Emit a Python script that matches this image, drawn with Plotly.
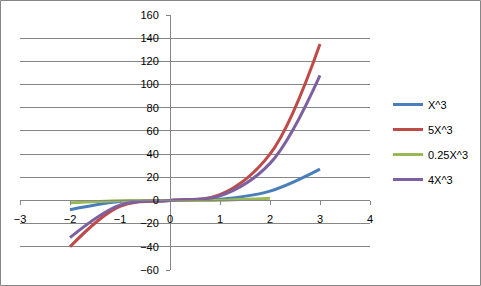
import plotly.graph_objects as go

x_full = [-2, -1, 0, 1, 2, 3]
x_green = [-2, -1, 0, 1, 2]
y_x3 = [-8, -1, 0, 1, 8, 27]
y_5x3 = [-40, -5, 0, 5, 40, 135]
y_025x3 = [-2, -0.25, 0, 0.25, 2]
y_4x3 = [-32, -4, 0, 4, 32, 108]

names = ["X^3", "5X^3", "0.25X^3", "4X^3"]
colors = ["#4A7EBB", "#BE4B48", "#98B954", "#7D60A0"]
xs = [x_full, x_full, x_green, x_full]
ys = [y_x3, y_5x3, y_025x3, y_4x3]

fig = go.Figure()
for n, c, xx, yy in zip(names, colors, xs, ys):
    fig.add_trace(go.Scatter(x=xx, y=yy, name=n, mode="lines",
                             line=dict(color=c, width=3, shape="spline", smoothing=1.0),
                             legendgroup=n))

L, R, T, B = 20, 111, 15, 16
W, H = 481, 286
pw, ph = W - L - R, H - T - B

fig.update_layout(
    width=W, height=H,
    margin=dict(l=L, r=R, t=T, b=B, autoexpand=False),
    paper_bgcolor="white", plot_bgcolor="white",
    font=dict(family="Liberation Sans, Arial, sans-serif", size=11, color="#000000"),
    showlegend=True,
    legend=dict(x=(388 - L) / pw, y=(H - B - 90) / ph, xanchor="left", yanchor="top",
                tracegroupgap=6, font=dict(size=11), itemwidth=30,
                bgcolor="rgba(0,0,0,0)"),
    xaxis=dict(range=[-3, 4], tickvals=[-3, -2, -1, 0, 1, 2, 3, 4],
               showgrid=False, zeroline=False, showline=True, linecolor="#868686",
               linewidth=1, ticks="outside", ticklen=4, tickcolor="#868686",
               ticklabelstandoff=4, automargin=False,
               anchor="free", position=60 / 220, fixedrange=True),
    yaxis=dict(range=[-60, 160], tickvals=list(range(-60, 161, 20)),
               showgrid=True, gridcolor="#868686", gridwidth=1, zeroline=False,
               showline=True, linecolor="#868686", linewidth=1,
               ticks="outside", ticklen=4, tickcolor="#868686",
               ticklabelstandoff=5, automargin=False,
               anchor="free", position=3 / 7, fixedrange=True),
)

fig.add_shape(type="rect", xref="paper", yref="paper",
              x0=(0.5 - L) / pw, x1=(W - 0.5 - L) / pw,
              y0=(H - B - (H - 0.5)) / ph, y1=(H - B - 0.5) / ph,
              line=dict(color="#868686", width=1), fillcolor="rgba(0,0,0,0)")

fig.write_html("out.html")
